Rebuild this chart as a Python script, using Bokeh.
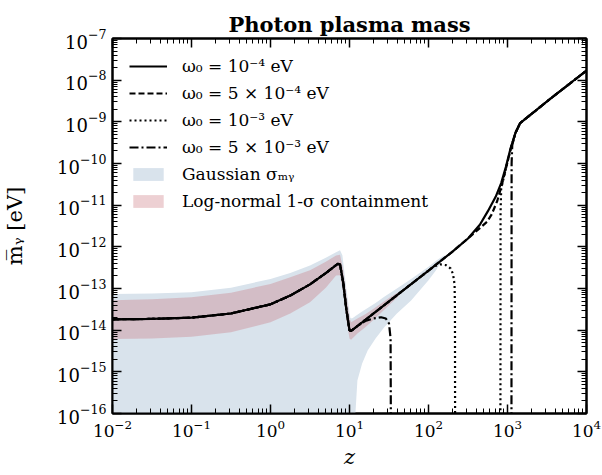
import numpy as np
from bokeh.plotting import figure
from bokeh.models import LogAxis, FixedTicker, Legend, LegendItem
from bokeh.embed import file_html
from bokeh.resources import INLINE

NaN = float("nan")

# ---- tick values ----
x_ticks = [1e-2, 1e-1, 1e0, 1e1, 1e2, 1e3, 1e4]
y_ticks = [1e-16, 1e-15, 1e-14, 1e-13, 1e-12, 1e-11, 1e-10, 1e-9, 1e-8, 1e-7]

# ---- data, stored as log10(z) and log10(m / eV) ----
# part shared by all four omega_0 curves (z < ~10)
lz_low = [-2.0, -1.5, -1.0, -0.5, 0.0, 0.25, 0.5, 0.7, 0.85, 0.88, 0.92, 0.96, 1.0, 1.02]
lm_low = [-13.74, -13.73, -13.70, -13.60, -13.38, -13.17, -12.90, -12.63, -12.41, -12.42,
          -12.85, -13.50, -14.00, -14.02]

# omega_0 = 1e-4 eV (solid)
lz_w1 = [1.5, 2.0, 2.3, 2.5, 2.65, 2.75, 2.85, 2.92, 2.98, 3.04, 3.1, 3.16, 3.54, 4.0]
lm_w1 = [-13.31, -12.57, -12.12, -11.80, -11.47, -11.15, -10.80, -10.47, -10.08, -9.63,
         -9.27, -9.03, -8.45, -7.77]

# omega_0 = 5e-4 eV (dashed)
lz_w2 = [1.5, 2.0, 2.3, 2.53, 2.65, 2.74, 2.8, 2.87, 2.93, 2.98, 3.04, 3.1, 3.16, 3.54, 4.0]
lm_w2 = [-13.31, -12.57, -12.12, -11.75, -11.55, -11.40, -11.22, -10.90, -10.50, -10.12,
         -9.65, -9.27, -9.03, -8.45, -7.77]

# omega_0 = 1e-3 eV (dotted)
lz_w3 = [1.5, 2.0, 2.07, 2.15, 2.22, 2.28, 2.31, 2.33, 2.335, 2.337, NaN,
         2.91, 2.912, 2.92, 2.98, 3.04, 3.1, 3.16, 3.54, 4.0]
lm_w3 = [-13.31, -12.57, -12.47, -12.42, -12.44, -12.52, -12.65, -12.90, -13.50, -17.0, NaN,
         -17.0, -11.20, -10.60, -10.12, -9.65, -9.27, -9.03, -8.45, -7.77]

# omega_0 = 5e-3 eV (dash-dot)
lz_w4 = [1.1, 1.2, 1.3, 1.4, 1.46, 1.5, 1.52, 1.525, NaN,
         3.05, 3.052, 3.06, 3.1, 3.16, 3.54, 4.0]
lm_w4 = [-13.90, -13.78, -13.72, -13.69, -13.72, -13.84, -14.20, -17.0, NaN,
         -17.0, -10.00, -9.56, -9.27, -9.03, -8.45, -7.77]

# Gaussian sigma band
lz_gauss = [-2.0, -1.5, -1.0, -0.5, 0.0, 0.25, 0.5, 0.7, 0.83, 0.88, 0.91, 0.96, 1.01, 1.03,
            1.065, 1.075, 1.1, 1.16, 1.23, 1.33, 1.44, 1.6, 1.78, 2.0, 2.1, 2.2]
lm_gauss_hi = [-13.13, -13.12, -13.09, -12.98, -12.77, -12.63, -12.45, -12.26, -12.13, -12.08,
               -12.20, -13.00, -13.70, -13.72, -13.68, -13.66, -13.63, -13.55, -13.47, -13.35,
               -13.20, -13.00, -12.77, -12.48, -12.33, -12.20]
lm_gauss_lo = [-17.0, -17.0, -17.0, -17.0, -17.0, -17.0, -17.0, -17.0, -17.0, -17.0,
               -17.0, -17.0, -17.0, -17.0, -17.0, -16.0, -15.21, -14.80, -14.49, -14.20,
               -13.93, -13.60, -13.29, -12.80, -12.55, -12.22]

# Log-normal 1-sigma containment band
lz_lognorm = [-2.0, -1.5, -1.0, -0.5, 0.0, 0.25, 0.5, 0.7, 0.83, 0.88, 0.92, 0.96, 1.0, 1.02,
              1.1, 1.2, 1.3, 1.4, 1.5, 1.6, 1.65]
lm_lognorm_hi = [-13.28, -13.26, -13.21, -13.10, -12.89, -12.73, -12.56, -12.36, -12.21, -12.19,
                 -12.55, -13.15, -13.70, -13.81, -13.72, -13.62, -13.49, -13.36, -13.23, -13.11, -13.07]
lm_lognorm_lo = [-14.21, -14.20, -14.16, -14.05, -13.81, -13.60, -13.33, -12.98, -12.69, -12.68,
                 -13.10, -13.75, -14.20, -14.23, -14.08, -13.93, -13.76, -13.58, -13.40, -13.22, -13.11]

labels = ["ω₀ = 10⁻⁴ eV", "ω₀ = 5 × 10⁻⁴ eV", "ω₀ = 10⁻³ eV", "ω₀ = 5 × 10⁻³ eV",
          "Gaussian σₘᵧ", "Log-normal 1-σ containment"]


def p10(a):
    return np.power(10.0, np.asarray(a, dtype=float))


FONT = "DejaVu Serif"

p = figure(width=602, height=475, x_axis_type="log", y_axis_type="log",
           x_range=(1e-2, 1e4), y_range=(1e-16, 1e-7),
           output_backend="svg", toolbar_location=None,
           min_border_left=111, min_border_right=16, min_border_top=38, min_border_bottom=62)

p.title.text = "Photon plasma mass"
p.title.align = "center"
p.title.text_font = FONT
p.title.text_font_style = "bold"
p.title.text_font_size = "21px"
p.title.text_color = "black"
p.title.standoff = 4

p.xgrid.visible = False
p.ygrid.visible = False
p.outline_line_color = "black"
p.outline_line_width = 2
p.background_fill_color = "white"
p.border_fill_color = "white"

x_minor = [m * t for t in x_ticks[:-1] for m in range(2, 10)]
y_minor = [m * t for t in y_ticks[:-1] for m in range(2, 10)]


def style_axis(ax, ticks, minor, size="18px", standoff=6, show_labels=True):
    ax.ticker = FixedTicker(ticks=ticks, minor_ticks=minor)
    ax.axis_line_width = 2
    ax.axis_line_color = "black"
    ax.major_tick_in = 9
    ax.major_tick_out = 0
    ax.minor_tick_in = 5
    ax.minor_tick_out = 0
    ax.major_tick_line_width = 1.5
    ax.minor_tick_line_width = 1
    ax.major_tick_line_color = "black"
    ax.minor_tick_line_color = "black"
    if show_labels:
        ax.major_label_text_font = FONT
        ax.major_label_text_font_size = size
        ax.major_label_text_color = "black"
        ax.major_label_standoff = standoff
    else:
        ax.major_label_text_font_size = "1px"
        ax.major_label_text_alpha = 0
        ax.major_label_standoff = 0
        ax.axis_label_standoff = 0


style_axis(p.xaxis[0], x_ticks, x_minor, size="17px", standoff=6)
style_axis(p.yaxis[0], y_ticks, y_minor, size="18px", standoff=6)

p.xaxis.axis_label = "z"
p.xaxis.axis_label_text_font = FONT
p.xaxis.axis_label_text_font_style = "italic"
p.xaxis.axis_label_text_font_size = "21px"
p.xaxis.axis_label_text_color = "black"
p.xaxis.axis_label_standoff = 5

p.yaxis.axis_label = "m̅ᵧ [eV]"
p.yaxis.axis_label_text_font = FONT
p.yaxis.axis_label_text_font_style = "normal"
p.yaxis.axis_label_text_font_size = "21px"
p.yaxis.axis_label_text_color = "black"
p.yaxis.axis_label_standoff = 27

top_ax = LogAxis()
style_axis(top_ax, x_ticks, x_minor, show_labels=False)
p.add_layout(top_ax, "above")
right_ax = LogAxis()
style_axis(right_ax, y_ticks, y_minor, show_labels=False)
p.add_layout(right_ax, "right")

# bands
r_gauss = p.varea(x=p10(lz_gauss), y1=p10(lm_gauss_lo), y2=p10(lm_gauss_hi),
                  fill_color="#d9e3ec", fill_alpha=1.0)
r_logn = p.varea(x=p10(lz_lognorm), y1=p10(lm_lognorm_lo), y2=p10(lm_lognorm_hi),
                 fill_color="#c86f7a", fill_alpha=0.33)

# lines
lw = 2.2
r4 = p.line(p10(lz_low + lz_w4), p10(lm_low + lm_w4), line_color="black", line_width=lw,
            line_dash="9 3 2 3")
r3 = p.line(p10(lz_low + lz_w3), p10(lm_low + lm_w3), line_color="black", line_width=lw,
            line_dash="2 3")
r2 = p.line(p10(lz_low + lz_w2), p10(lm_low + lm_w2), line_color="black", line_width=lw,
            line_dash="6 3")
r1 = p.line(p10(lz_low + lz_w1), p10(lm_low + lm_w1), line_color="black", line_width=lw)

legend = Legend(items=[LegendItem(label=labels[0], renderers=[r1]),
                       LegendItem(label=labels[1], renderers=[r2]),
                       LegendItem(label=labels[2], renderers=[r3]),
                       LegendItem(label=labels[3], renderers=[r4]),
                       LegendItem(label=labels[4], renderers=[r_gauss]),
                       LegendItem(label=labels[5], renderers=[r_logn])],
                location="top_left")
legend.border_line_alpha = 0
legend.background_fill_alpha = 0
legend.label_text_font = FONT
legend.label_text_font_size = "17px"
legend.label_text_color = "black"
legend.glyph_width = 38
legend.glyph_height = 16
legend.label_height = 21
legend.spacing = 6
legend.label_standoff = 15
legend.margin = 8
legend.padding = 9
p.add_layout(legend)

open("out.html", "w").write(file_html(p, INLINE))
